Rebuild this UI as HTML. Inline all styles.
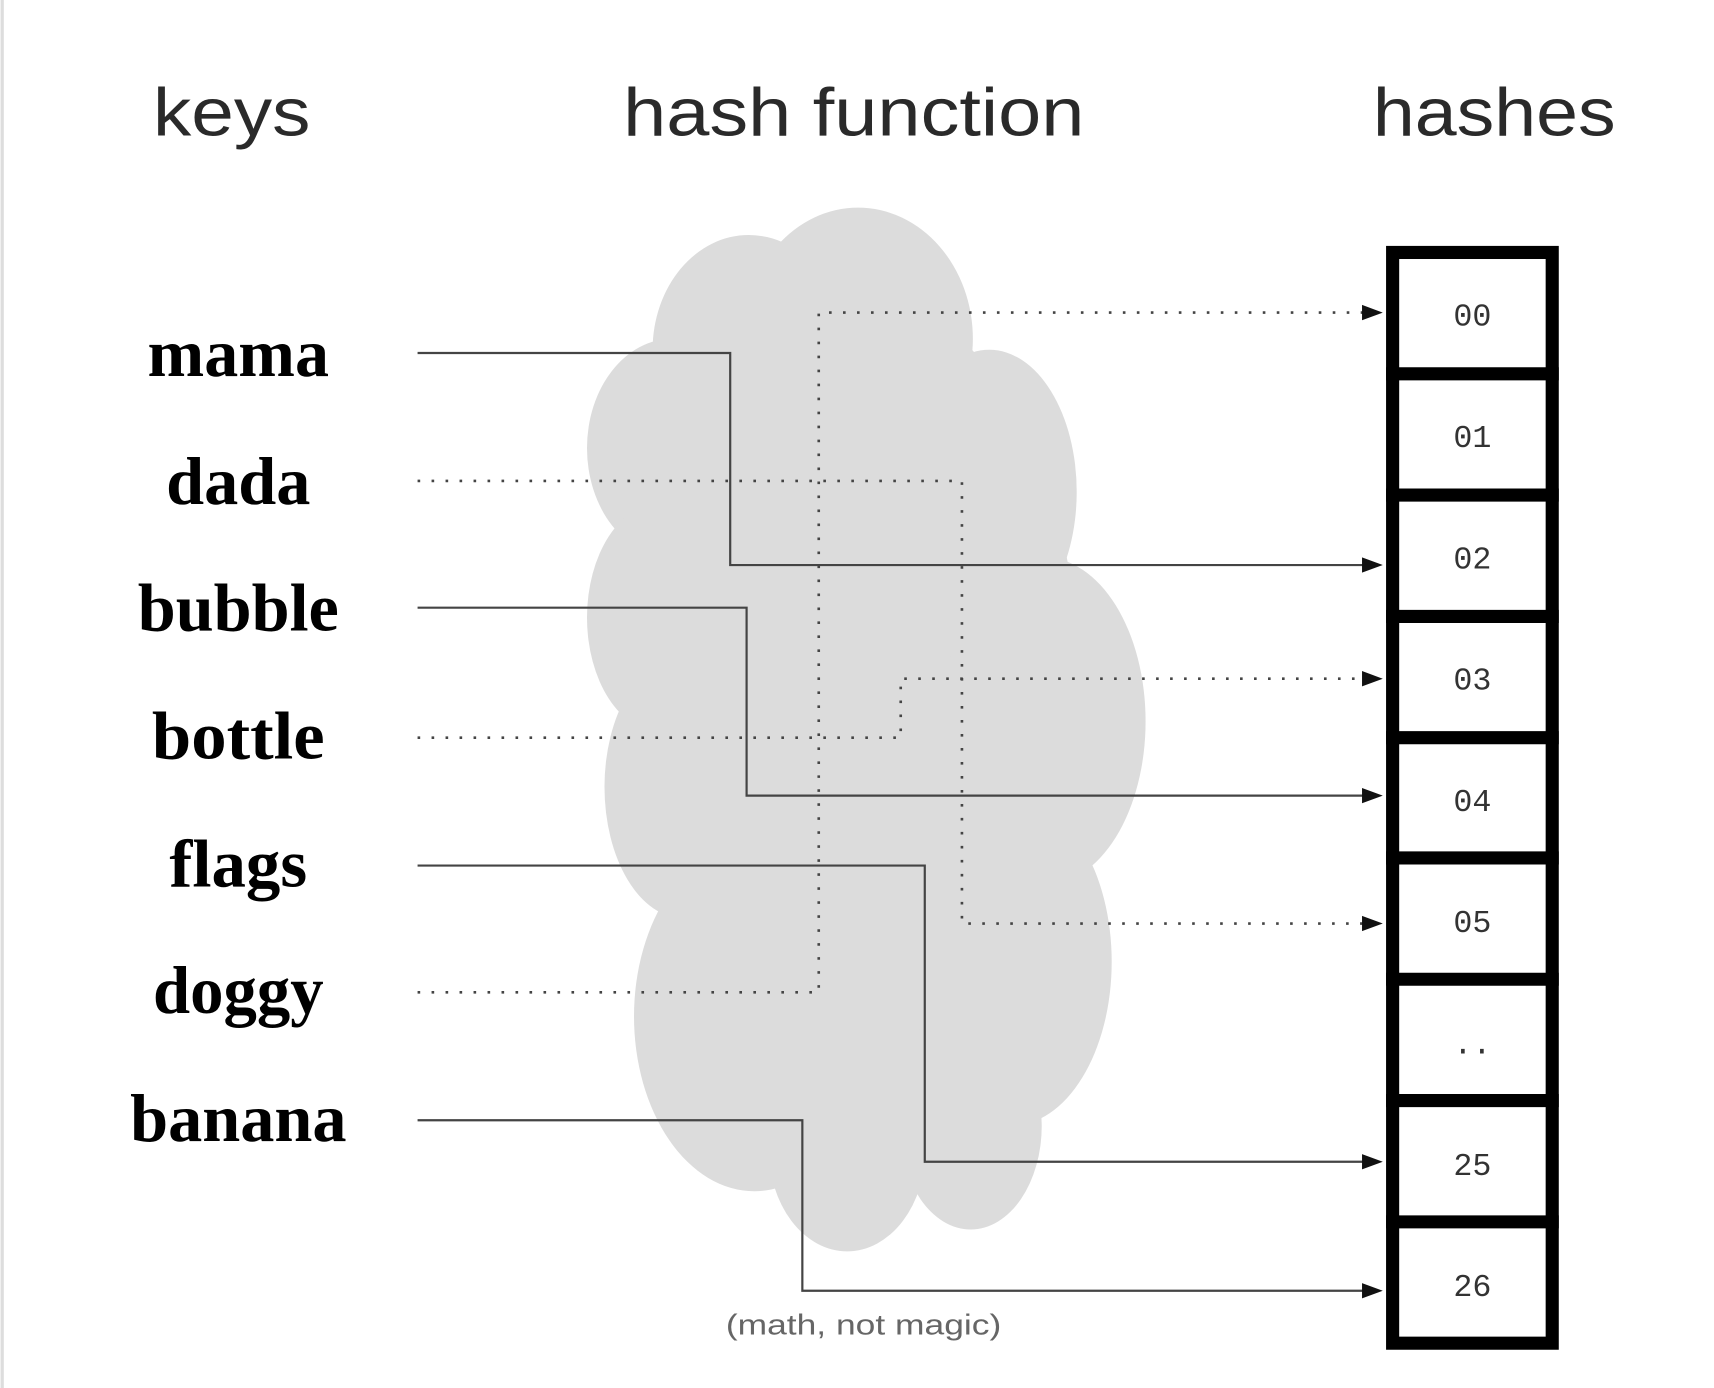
<!DOCTYPE html>
<html><head><meta charset="utf-8"><style>
html,body{margin:0;padding:0;background:#fff;}
svg{display:block;}
</style></head><body>
<svg width="1714" height="1388" viewBox="0 0 1568 1270" preserveAspectRatio="none" xmlns="http://www.w3.org/2000/svg">
<rect x="0" y="0" width="1568" height="1270" fill="#fff"/>
<line x1="2" y1="0" x2="2" y2="1270" stroke="#ddd" stroke-width="3"/>
<g fill="#dcdcdc">
<ellipse cx="790" cy="650" rx="200" ry="380"/>
<ellipse cx="785" cy="310" rx="105" ry="120"/>
<ellipse cx="685" cy="320" rx="88" ry="105"/>
<ellipse cx="615" cy="410" rx="78" ry="100"/>
<ellipse cx="905" cy="450" rx="80" ry="130"/>
<ellipse cx="955" cy="660" rx="93" ry="150"/>
<ellipse cx="605" cy="565" rx="68" ry="105"/>
<ellipse cx="625" cy="720" rx="72" ry="120"/>
<ellipse cx="690" cy="930" rx="110" ry="160"/>
<ellipse cx="925" cy="880" rx="92" ry="150"/>
<ellipse cx="775" cy="1050" rx="72" ry="95"/>
<ellipse cx="888" cy="1030" rx="65" ry="95"/>
</g>
<g font-family="'Liberation Sans', sans-serif" font-size="62" fill="#2a2a2a" text-anchor="middle">
<text x="212" y="124" textLength="144" lengthAdjust="spacingAndGlyphs">keys</text>
<text x="781" y="124" textLength="422" lengthAdjust="spacingAndGlyphs">hash function</text>
<text x="1367" y="124" textLength="222" lengthAdjust="spacingAndGlyphs">hashes</text>
</g>
<g font-family="'Liberation Serif', serif" font-weight="bold" font-size="62" fill="#000" text-anchor="middle">
<text x="218" y="344" textLength="166" lengthAdjust="spacingAndGlyphs">mama</text>
<text x="218" y="461" textLength="132" lengthAdjust="spacingAndGlyphs">dada</text>
<text x="218" y="577" textLength="184" lengthAdjust="spacingAndGlyphs">bubble</text>
<text x="218" y="694" textLength="158" lengthAdjust="spacingAndGlyphs">bottle</text>
<text x="218" y="811" textLength="126" lengthAdjust="spacingAndGlyphs">flags</text>
<text x="218" y="927" textLength="156" lengthAdjust="spacingAndGlyphs">doggy</text>
<text x="218" y="1044" textLength="198" lengthAdjust="spacingAndGlyphs">banana</text>
</g>
<g fill="none" stroke="#444" stroke-width="2">
<polyline points="382,323 668,323 668,517 1250,517"/>
<polyline points="382,556 683,556 683,728 1250,728"/>
<polyline points="382,792 846,792 846,1063 1250,1063"/>
<polyline points="382,1025 734,1025 734,1181 1250,1181"/>
</g>
<g fill="none" stroke="#444" stroke-width="2.4" stroke-dasharray="2.4 10.4" stroke-linecap="butt">
<polyline points="382,440 880,440 880,845 1250,845"/>
<polyline points="382,675 824,675 824,621 1250,621"/>
<polyline points="382,908 749,908 749,286 1250,286"/>
</g>
<g fill="#111">
<polygon points="1246,279 1265,286 1246,293"/>
<polygon points="1246,510 1265,517 1246,524"/>
<polygon points="1246,614 1265,621 1246,628"/>
<polygon points="1246,721 1265,728 1246,735"/>
<polygon points="1246,838 1265,845 1246,852"/>
<polygon points="1246,1056 1265,1063 1246,1070"/>
<polygon points="1246,1174 1265,1181 1246,1188"/>
</g>
<g fill="none" stroke="#000" stroke-width="12">
<rect x="1274" y="231" width="146" height="998"/>
<line x1="1268" y1="342" x2="1426" y2="342"/>
<line x1="1268" y1="453" x2="1426" y2="453"/>
<line x1="1268" y1="564" x2="1426" y2="564"/>
<line x1="1268" y1="675" x2="1426" y2="675"/>
<line x1="1268" y1="785" x2="1426" y2="785"/>
<line x1="1268" y1="896" x2="1426" y2="896"/>
<line x1="1268" y1="1007" x2="1426" y2="1007"/>
<line x1="1268" y1="1118" x2="1426" y2="1118"/>
</g>
<g font-family="'Liberation Mono', monospace" font-size="29" fill="#333" text-anchor="middle">
<text x="1347" y="298">00</text>
<text x="1347" y="409">01</text>
<text x="1347" y="520">02</text>
<text x="1347" y="631">03</text>
<text x="1347" y="742">04</text>
<text x="1347" y="853">05</text>
<text x="1347" y="964">..</text>
<text x="1347" y="1075">25</text>
<text x="1347" y="1186">26</text>
</g>
<text x="790" y="1221" font-family="'Liberation Sans', sans-serif" font-size="26" fill="#666" text-anchor="middle" textLength="252" lengthAdjust="spacingAndGlyphs">(math, not magic)</text>
</svg>
</body></html>
